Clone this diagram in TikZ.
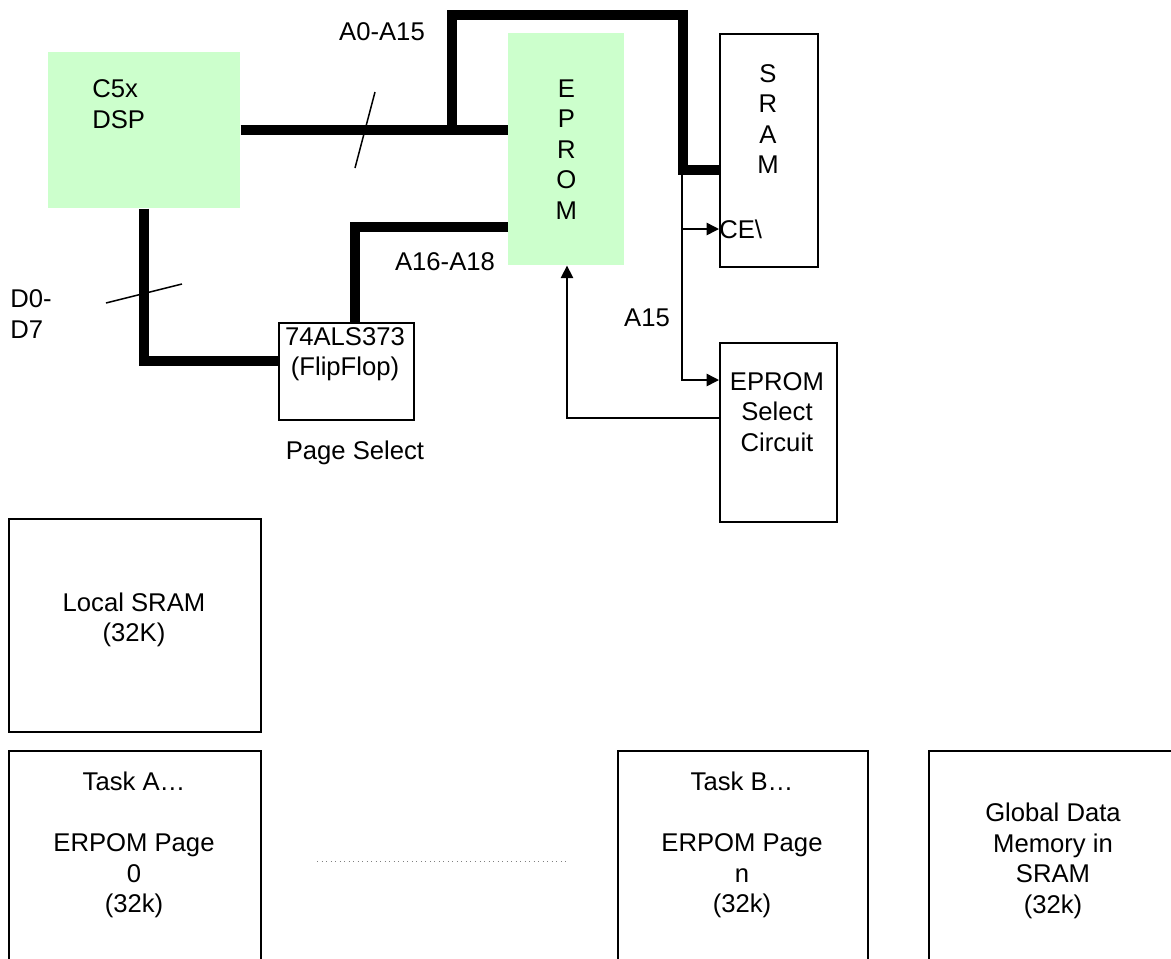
\documentclass[tikz,border=0pt]{standalone}
\usepackage{fontspec}
\setmainfont{Liberation Sans}
\usetikzlibrary{arrows.meta}
\definecolor{chipgreen}{RGB}{204,255,204}
\tikzset{
  chip/.style={fill=chipgreen, inner sep=0pt, anchor=north west},
  memblock/.style={draw, line width=0.04cm, inner sep=0pt, anchor=north west},
  bus/.style={line width=0.2cm, line join=miter},
  wire/.style={line width=0.03cm},
  tip/.style={-{Triangle[length=0.25cm,width=0.25cm]}},
  txt/.style={inner sep=0pt, align=center, font=\fontsize{14.6pt}{17.4pt}\selectfont},
}
\begin{document}
\begin{tikzpicture}[x=0.02cm, y=-0.02cm]
    \useasboundingbox (0,0) rectangle (1171,958);
    \clip (0,0) rectangle (1171,958);

    % chips and blocks
    \node[chip, minimum width=3.84cm, minimum height=3.12cm] (dsp) at (48,52) {};
    \node[chip, txt, minimum width=2.32cm, minimum height=4.64cm] (eprom) at (508,33) {E\\P\\R\\O\\M};
    \node[memblock, minimum width=1.96cm, minimum height=4.66cm] (sram) at (719,33) {};
    \node[memblock, minimum width=2.34cm, minimum height=3.58cm] (sel) at (719,342) {};
    \node[memblock, minimum width=2.7cm, minimum height=1.94cm] (ff) at (278,322) {};

    \node[txt, align=left, anchor=west] (dsptext) at (92,104) {C5x\\DSP};
    \node[txt] (sramtext) at (768,119) {S\\R\\A\\M};
    \node[txt] (seltext) at (777,412) {EPROM\\Select\\Circuit};
    \node[txt] (fftext) at (345,354) {74ALS373\\(FlipFlop)};
    \node[txt, anchor=west] (ce) at (719,229) {CE\textbackslash};

    % bus labels
    \node[txt] (abus) at (382,32) {A0-A15};
    \node[txt] (hibus) at (445,262) {A16-A18};
    \node[txt] (a15) at (647,318) {A15};
    \node[txt, align=left, anchor=west] (dbus) at (10,314) {D0-\\D7};
    \node[txt] (pgsel) at (355,453) {Page Select};

    % memory map
    \node[memblock, minimum width=5.04cm, minimum height=4.26cm] (local) at (8,518) {};
    \node[memblock, minimum width=5.04cm, minimum height=4.6cm] (taska) at (8,750) {};
    \node[memblock, minimum width=5cm, minimum height=4.6cm] (taskb) at (617,750) {};
    \node[memblock, minimum width=5.3cm, minimum height=4.6cm] (global) at (928,750) {};
    \node[txt] (localtext) at (134,620) {Local SRAM\\(32K)};
    \node[txt] (taskatext) at (134,845) {Task A…\\[17.4pt]ERPOM Page\\0\\(32k)};
    \node[txt] (taskbtext) at (742,845) {Task B…\\[17.4pt]ERPOM Page\\n\\(32k)};
    \node[txt] (globaltext) at (1053,861) {Global Data\\Memory in\\SRAM\\(32k)};

    % buses
    \coordinate (tap) at (452,130);
    \coordinate (busturn) at (683,170);
    \coordinate (hibend) at (355,227);
    \coordinate (dbend) at (144,361);
    \draw[bus] (dsp.east) -- (eprom.west |- dsp.east);
    \draw[bus] (tap) -- (452,15) -- (683,15) -- (busturn) -- (busturn -| sram.west);
    \draw[bus] (eprom.west |- hibend) -- (hibend) -- (hibend |- ff.north);
    \draw[bus] (dsp.south -| dbend) -- (dbend) -- (dbend -| ff.west);
    \draw[wire] (355,168) -- (375,92);
    \draw[wire] (106,303) -- (182,284);

    % select lines
    \coordinate (cetap) at (682,170);
    \coordinate (cetee) at (682,229);
    \coordinate (selin) at (682,380);
    \coordinate (selout) at (567,418);
    \draw[wire, tip] (cetap) -- (selin) -- (selin -| sel.west);
    \draw[wire, tip] (cetee) -- (ce.west);
    \draw[wire, tip] (selout -| sel.west) -- (selout) -- (selout |- eprom.south);

    \draw[dotted, gray, line width=0.02cm] (317,861) -- (566,861);
\end{tikzpicture}
\end{document}
